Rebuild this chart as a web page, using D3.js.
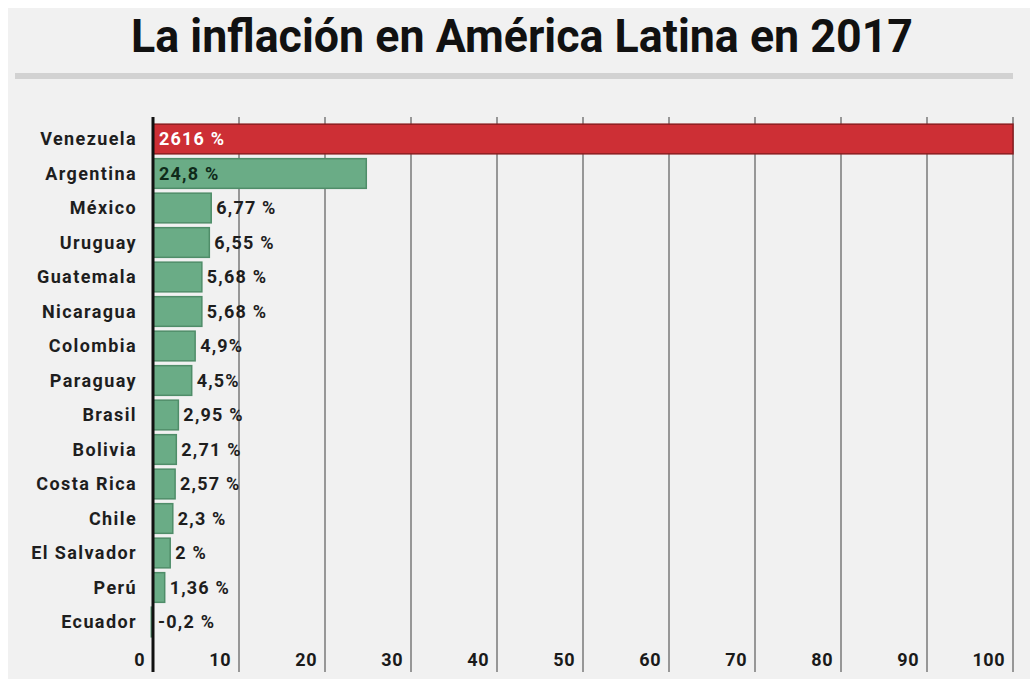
<!DOCTYPE html>
<html>
<head>
<meta charset="utf-8">
<script src="https://cdn.jsdelivr.net/npm/d3@7"></script>
<style>
  html, body { margin: 0; padding: 0; background: #ffffff; }
  svg { display: block; }
</style>
</head>
<body>
<svg id="chart" width="1030" height="679"></svg>
<script>
// Inflación 2017 por país (porcentaje anual)
const countries = ["Venezuela", "Argentina", "México", "Uruguay", "Guatemala", "Nicaragua",
  "Colombia", "Paraguay", "Brasil", "Bolivia", "Costa Rica", "Chile", "El Salvador", "Perú", "Ecuador"];
const inflation = [2616, 24.8, 6.77, 6.55, 5.68, 5.68, 4.9, 4.5, 2.95, 2.71, 2.57, 2.3, 2, 1.36, -0.2];
const valueLabels = ["2616 %", "24,8 %", "6,77 %", "6,55 %", "5,68 %", "5,68 %", "4,9%", "4,5%",
  "2,95 %", "2,71 %", "2,57 %", "2,3 %", "2 %", "1,36 %", "-0,2 %"];
const axisTicks = [0, 10, 20, 30, 40, 50, 60, 70, 80, 90, 100];
const titleText = "La inflación en América Latina en 2017";

const W = 1030, H = 679;
const svg = d3.select("#chart");
const FONT = "Roboto, 'Liberation Sans', sans-serif";

// panel background
svg.append("rect").attr("x", 8).attr("y", 8).attr("width", W - 8).attr("height", H - 8)
  .attr("fill", "#f1f1f1");

// title
svg.append("text")
  .attr("x", 522).attr("y", 52)
  .attr("text-anchor", "middle")
  .attr("font-family", FONT)
  .attr("font-weight", 700)
  .attr("font-size", 47)
  .attr("fill", "#111")
  .attr("textLength", 782)
  .attr("lengthAdjust", "spacingAndGlyphs")
  .text(titleText);

// rule under the title
svg.append("rect").attr("x", 15).attr("y", 73).attr("width", 998).attr("height", 6)
  .attr("fill", "#d2d2d2");

const x = d3.scaleLinear().domain([0, 100]).range([153, 1013]);
const y = d3.scaleBand().domain(countries).range([121.75, 639.25]).paddingInner(0.14).paddingOuter(0.07);

const gridTop = 117, gridBottom = 672;

// vertical gridlines
svg.append("g").selectAll("line")
  .data(axisTicks.filter(t => t > 0))
  .join("line")
  .attr("x1", d => x(d)).attr("x2", d => x(d))
  .attr("y1", gridTop).attr("y2", gridBottom)
  .attr("stroke", "#979797").attr("stroke-width", 2);

// tick labels, right-aligned to the left of each line
svg.append("g").selectAll("text")
  .data(axisTicks)
  .join("text")
  .attr("x", d => x(d) - 8)
  .attr("y", 666)
  .attr("text-anchor", "end")
  .attr("font-family", FONT)
  .attr("font-weight", 700)
  .attr("font-size", 18)
  .attr("letter-spacing", 0.5)
  .attr("fill", "#1a1a1a")
  .text(d => d);

const rows = countries.map((c, i) => ({ country: c, value: inflation[i], label: valueLabels[i] }));
const clip = v => Math.max(Math.min(v, 100), 0);

// bars (values above the axis maximum run to the edge)
svg.append("g").selectAll("rect")
  .data(rows)
  .join("rect")
  .attr("x", d => x(Math.min(0, d.value)))
  .attr("y", d => y(d.country))
  .attr("width", d => Math.abs(x(Math.min(d.value, 100)) - x(0)))
  .attr("height", y.bandwidth())
  .attr("fill", d => d.value > 100 ? "#cd2f35" : "#6aac86")
  .attr("stroke", d => d.value > 100 ? "#8c1d1f" : "#4f8d69")
  .attr("stroke-width", 1.5);

// zero axis
svg.append("line")
  .attr("x1", x(0)).attr("x2", x(0))
  .attr("y1", gridTop).attr("y2", gridBottom)
  .attr("stroke", "#111").attr("stroke-width", 3);

// country names
svg.append("g").selectAll("text")
  .data(rows)
  .join("text")
  .attr("x", 137)
  .attr("y", d => y(d.country) + y.bandwidth() / 2)
  .attr("dy", "0.36em")
  .attr("text-anchor", "end")
  .attr("font-family", FONT)
  .attr("font-weight", 700)
  .attr("font-size", 18)
  .attr("letter-spacing", 1.4)
  .attr("fill", "#1e1e1e")
  .text(d => d.country);

// value labels: inside wide bars, otherwise just past the bar end
const inside = d => x(clip(d.value)) - x(0) > 100;
svg.append("g").selectAll("text")
  .data(rows)
  .join("text")
  .attr("x", d => inside(d) ? x(0) + 6 : x(clip(d.value)) + 5)
  .attr("y", d => y(d.country) + y.bandwidth() / 2)
  .attr("dy", "0.36em")
  .attr("font-family", FONT)
  .attr("font-weight", 700)
  .attr("font-size", 18)
  .attr("letter-spacing", 1.2)
  .attr("fill", d => d.value > 100 ? "#ffffff" : (inside(d) ? "#0f2a1a" : "#1e1e1e"))
  .text(d => d.label);
</script>
</body>
</html>
